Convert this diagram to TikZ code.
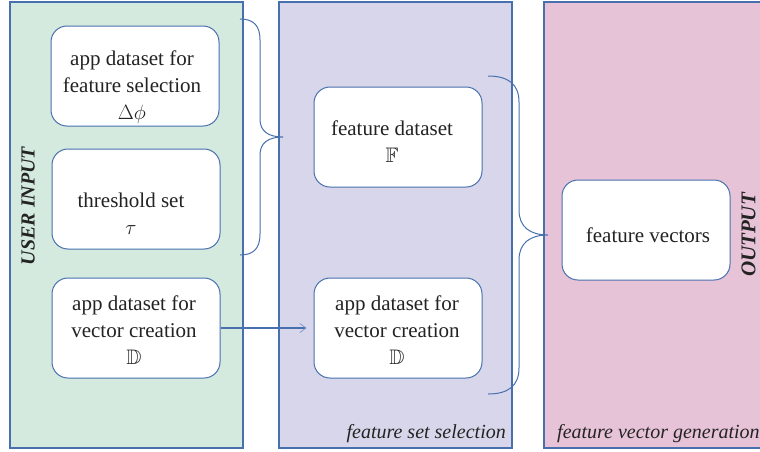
\documentclass[tikz,border=0pt]{standalone}
\usepackage{amssymb}
\usepackage{fontspec}
\setmainfont{Liberation Serif}
\usetikzlibrary{arrows.meta}
\definecolor{bordc}{RGB}{72,112,174}
\definecolor{greenp}{RGB}{212,234,223}
\definecolor{purpp}{RGB}{216,214,234}
\definecolor{pinkp}{RGB}{231,195,216}
\definecolor{txt}{RGB}{35,35,35}
\definecolor{tipc}{RGB}{120,150,200}
\tikzset{
  panel/.style={draw=bordc, line width=1.1pt},
  box/.style={draw=bordc, fill=white, line width=1pt, rounded corners=16pt,
    minimum width=168pt, minimum height=100pt, inner sep=0pt},
  btxt/.style={align=center, text=txt, font=\fontsize{21}{27}\selectfont, inner sep=0pt},
  brc/.style={draw=bordc, line width=1pt},
  conn/.style={draw=bordc, line width=1.8pt},
  plabel/.style={text=txt, font=\fontsize{20}{22}\selectfont\itshape, inner sep=0pt},
  side/.style={text=txt, font=\bfseries\itshape, inner sep=0pt, rotate=90}
}
\begin{document}
\begin{tikzpicture}[x=1pt,y=-1pt]
\clip (0,0) rectangle (760,451);
\fill[white] (0,0) rectangle (760,451);
% panels
\draw[panel, fill=greenp] (10,2) rectangle (243,448);
\draw[panel, fill=purpp] (279,2) rectangle (512,448);
\draw[panel, fill=pinkp] (544,2) rectangle (790,448);
% side labels
\node[side, font=\fontsize{20}{22}\selectfont\bfseries\itshape] (ui) at (28,206) {USER INPUT};
\node[side, font=\fontsize{21}{23}\selectfont\bfseries\itshape] (out) at (748.5,235) {OUTPUT};
\node[plabel, anchor=base east] (fss) at (506,438) {feature set selection};
\node[plabel, anchor=base west] (fvg) at (557,438) {feature vector generation};
% boxes
\node[box] (A) at (135,76) {};
\node[box] (B) at (136,199) {};
\node[box] (C) at (136,328) {};
\node[box] (F) at (398,137) {};
\node[box] (D) at (398,328) {};
\node[box] (V) at (646,230) {};
% box texts
\node[btxt] (At) at (132,87) {app dataset for\\feature selection\\$\Delta\phi$};
\node[btxt] (Bt) at (131,214) {threshold set\\$\tau$};
\node[btxt] (Ct) at (134,330) {app dataset for\\vector creation\\$\mathbb{D}$};
\node[btxt] (Ft) at (392,142) {feature dataset\\$\mathbb{F}$};
\node[btxt] (Dt) at (397,330) {app dataset for\\vector creation\\$\mathbb{D}$};
\node[btxt] (Vt) at (648,235) {feature vectors};
% braces
\coordinate (b1t) at (240,19);
\coordinate (b1m) at (283,137);
\coordinate (b1b) at (240,255);
\draw[brc] (b1t) .. controls (254,19) and (260,26) .. (260,40) -- (260,119)
  .. controls (260,131) and (268,137) .. (b1m)
  .. controls (268,137) and (260,143) .. (260,155) -- (260,234)
  .. controls (260,248) and (254,255) .. (b1b);
\coordinate (b2t) at (488,76);
\coordinate (b2m) at (548,235);
\coordinate (b2b) at (488,394);
\draw[brc] (b2t) .. controls (508,76) and (519,84) .. (519,102) -- (519,210)
  .. controls (519,227) and (530,235) .. (b2m)
  .. controls (530,235) and (519,243) .. (519,260) -- (519,368)
  .. controls (519,386) and (508,394) .. (b2b);
% arrow
\draw[conn, shorten >=7pt, -{Straight Barb[length=6pt,width=9pt,line width=0.7pt,color=tipc]}] (C.east) -- (D.west);
\end{tikzpicture}
\end{document}
